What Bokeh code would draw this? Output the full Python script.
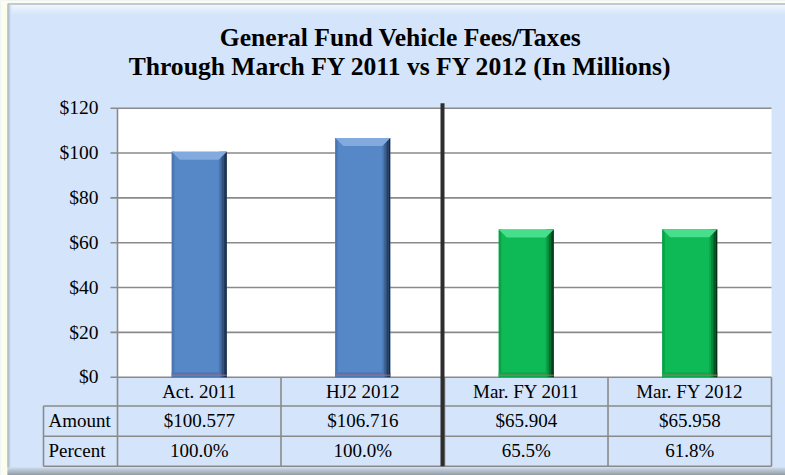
import numpy as np
from bokeh.plotting import figure
from bokeh.models import Range1d
from bokeh.core.properties import value
from bokeh.embed import file_html
from bokeh.resources import INLINE

# ---------------- data ----------------
title_lines = ["General Fund Vehicle Fees/Taxes",
               "Through March FY 2011 vs FY 2012 (In Millions)"]
categories = ["Act. 2011", "HJ2 2012", "Mar. FY 2011", "Mar. FY 2012"]
amounts = [100.577, 106.716, 65.904, 65.958]
amount_labels = ["$100.577", "$106.716", "$65.904", "$65.958"]
percent_labels = ["100.0%", "100.0%", "65.5%", "61.8%"]
row_labels = ["Amount", "Percent"]
y_ticks = [0, 20, 40, 60, 80, 100, 120]
y_tick_labels = ["$0", "$20", "$40", "$60", "$80", "$100", "$120"]

# ---------------- layout / style ----------------
W, H = 785, 475
PAGE_X0, PAGE_Y0 = 0, 0
BOX_X, BOX_Y = 7, 3
PLOT_L, PLOT_R = 117, 771
Y0_PX, YTOP_PX = 376.7, 107.7
n = len(categories)
SX = (PLOT_R - PLOT_L) / n
SY = (Y0_PX - YTOP_PX) / y_ticks[-1]
BFIX = 0.37  # baseline correction (fraction of font size)

def dx(px):
    return (px - PLOT_L) / SX

def dy(py):
    return (Y0_PX - py) / SY

def wx(px):
    return px / SX

def hy(px):
    return px / SY

LIGHT = "#D4E5FB"
OUTSIDE = "#FDFDEC"
GRID = "#8A8A8A"
FONT = value("Liberation Serif")
TICK_FS, TABLE_FS, TITLE_FS = 19.5, 19.0, 25.6

def lerp(c1, c2, t):
    a = [int(c1[i:i + 2], 16) for i in (1, 3, 5)]
    b = [int(c2[i:i + 2], 16) for i in (1, 3, 5)]
    return "#%02x%02x%02x" % tuple(int(round(a[k] + (b[k] - a[k]) * t)) for k in range(3))

BLUE = dict(main="#5687C6", light="#82AADF", left="#4A77B3", bottom="#4A78B6",
            right=["#4D79B3", "#3F6498", "#31507A", "#243C5C", "#172940"])
GREEN = dict(main="#0DBA55", light="#47DF8B", left="#0AA048", bottom="#0AA94C",
             right=["#0AA349", "#088A3D", "#066C2F", "#044E22", "#023015"])
bar_styles = [BLUE, BLUE, GREEN, GREEN]

p = figure(width=W, height=H, output_backend="svg", toolbar_location=None,
           x_range=Range1d(dx(PAGE_X0), dx(PAGE_X0 + W)),
           y_range=Range1d(dy(PAGE_Y0 + H), dy(PAGE_Y0)),
           x_axis_type=None, y_axis_type=None, title=None,
           min_border=0, background_fill_color=LIGHT, border_fill_color=LIGHT,
           outline_line_color=None)

# outside strips (page background around the chart box)
p.quad(left=[dx(0)], right=[dx(BOX_X)], top=[dy(0)], bottom=[dy(H)],
       fill_color=OUTSIDE, line_color=None)
p.quad(left=[dx(0)], right=[dx(W)], top=[dy(0)], bottom=[dy(BOX_Y)],
       fill_color=OUTSIDE, line_color=None)

# outer box decorations
for k in range(11):
    y_top = BOX_Y + 1 + k
    p.quad(left=dx(BOX_X), right=dx(W), top=dy(y_top), bottom=dy(y_top + 1),
           fill_color=lerp("#F8FBFF", LIGHT, k / 10), line_color=None)
p.segment(x0=[dx(BOX_X)], x1=[dx(W)], y0=[dy(BOX_Y + 0.5)], y1=[dy(BOX_Y + 0.5)],
          line_color="#9CA2A8", line_width=1)
for k in range(4):
    xl = BOX_X + k
    p.quad(left=dx(xl), right=dx(xl + 1), top=dy(BOX_Y + 1), bottom=dy(H - 8),
           fill_color=lerp("#9AA4B0", LIGHT, k / 3), line_color=None)
for k in range(8):
    yb = H - 8 + k
    p.quad(left=dx(BOX_X), right=dx(W), top=dy(yb), bottom=dy(yb + 1),
           fill_color=lerp("#C9D5E3", "#7D848C", k / 7), line_color=None)

# plot area
x_left, x_right = 0, n
p.quad(left=[x_left], right=[x_right], bottom=[0], top=[y_ticks[-1]],
       fill_color="white", line_color=None)
p.segment(x0=[x_left] * len(y_ticks), x1=[x_right] * len(y_ticks), y0=y_ticks, y1=y_ticks,
          line_color=GRID, line_width=1.6)
p.segment(x0=[dx(PLOT_L - 7)] * len(y_ticks), x1=[x_left] * len(y_ticks), y0=y_ticks, y1=y_ticks,
          line_color=GRID, line_width=1.6)
p.segment(x0=[x_left], x1=[x_left], y0=[0], y1=[y_ticks[-1]], line_color=GRID, line_width=1.6)
p.text(x=[dx(98)] * len(y_ticks), y=[t - hy(7) + hy(BFIX * TICK_FS) for t in y_ticks],
       text=y_tick_labels, text_font=FONT, text_font_size=value("%spx" % TICK_FS),
       text_align="right", text_baseline="alphabetic", text_color="black")

# bars with bevel look
centers = np.arange(n) + 0.5
half = wx(27.5)
lefts = centers - half
rights = centers + half
tops = np.array(amounts)
p.quad(left=lefts, right=rights, bottom=0, top=tops,
       fill_color=[s["main"] for s in bar_styles], line_color=None)
p.quad(left=lefts, right=lefts + wx(2.5), bottom=0, top=tops,
       fill_color=[s["left"] for s in bar_styles], line_color=None)
p.quad(left=lefts, right=rights, bottom=0, top=hy(5),
       fill_color=[s["bottom"] for s in bar_styles], line_color=None)
for k in range(5):
    p.quad(left=rights - wx(8) + k * wx(1.6), right=rights - wx(8) + (k + 1) * wx(1.6),
           bottom=0, top=tops, fill_color=[s["right"][k] for s in bar_styles], line_color=None)
bev_x = [[l, r, r - wx(8), l + wx(8)] for l, r in zip(lefts, rights)]
bev_y = [[t, t, t - hy(8), t - hy(8)] for t in tops]
p.patches(xs=bev_x, ys=bev_y, fill_color=[s["light"] for s in bar_styles], line_color=None)
p.segment(x0=lefts, x1=rights, y0=hy(2), y1=hy(2), line_color="#D0605A", line_width=1)

# data table below
row_bounds = [Y0_PX, 405.5, 435.7, 465.7]
label_left = 43
for yb in row_bounds[1:]:
    p.segment(x0=[dx(label_left)], x1=[x_right], y0=[dy(yb)], y1=[dy(yb)],
              line_color=GRID, line_width=1.6)
p.segment(x0=[dx(label_left)], x1=[dx(label_left)], y0=[dy(row_bounds[1])], y1=[dy(row_bounds[-1])],
          line_color=GRID, line_width=1.6)
col_bounds = list(range(n + 1))
p.segment(x0=col_bounds, x1=col_bounds, y0=[0] * len(col_bounds),
          y1=[dy(row_bounds[-1])] * len(col_bounds), line_color=GRID, line_width=1.6)
# group divider
div_x = n / 2 - wx(2)
p.segment(x0=[div_x], x1=[div_x], y0=[dy(102.7)], y1=[dy(row_bounds[-1])],
          line_color="#2E2E2E", line_width=4)

tsize = value("%spx" % TABLE_FS)
tfix = BFIX * TABLE_FS
p.text(x=centers, y=[dy(398.3 - tfix)] * n, text=categories, text_font=FONT, text_font_size=tsize,
       text_align="center", text_baseline="alphabetic", text_color="black")
p.text(x=centers, y=[dy(427.3 - tfix)] * n, text=amount_labels, text_font=FONT, text_font_size=tsize,
       text_align="center", text_baseline="alphabetic", text_color="black")
p.text(x=centers, y=[dy(457.0 - tfix)] * n, text=percent_labels, text_font=FONT, text_font_size=tsize,
       text_align="center", text_baseline="alphabetic", text_color="black")
p.text(x=[dx(48)] * 2, y=[dy(427.3 - tfix), dy(457.0 - tfix)], text=row_labels, text_font=FONT,
       text_font_size=tsize, text_align="left", text_baseline="alphabetic", text_color="black")

# title
hfix = BFIX * TITLE_FS
p.text(x=[dx(400)] * 2, y=[dy(46 - hfix), dy(75.5 - hfix)], text=title_lines, text_font=FONT,
       text_font_style="bold", text_font_size=value("%spx" % TITLE_FS), text_align="center",
       text_baseline="alphabetic", text_color="black")

open("out.html", "w").write(file_html(p, INLINE))
